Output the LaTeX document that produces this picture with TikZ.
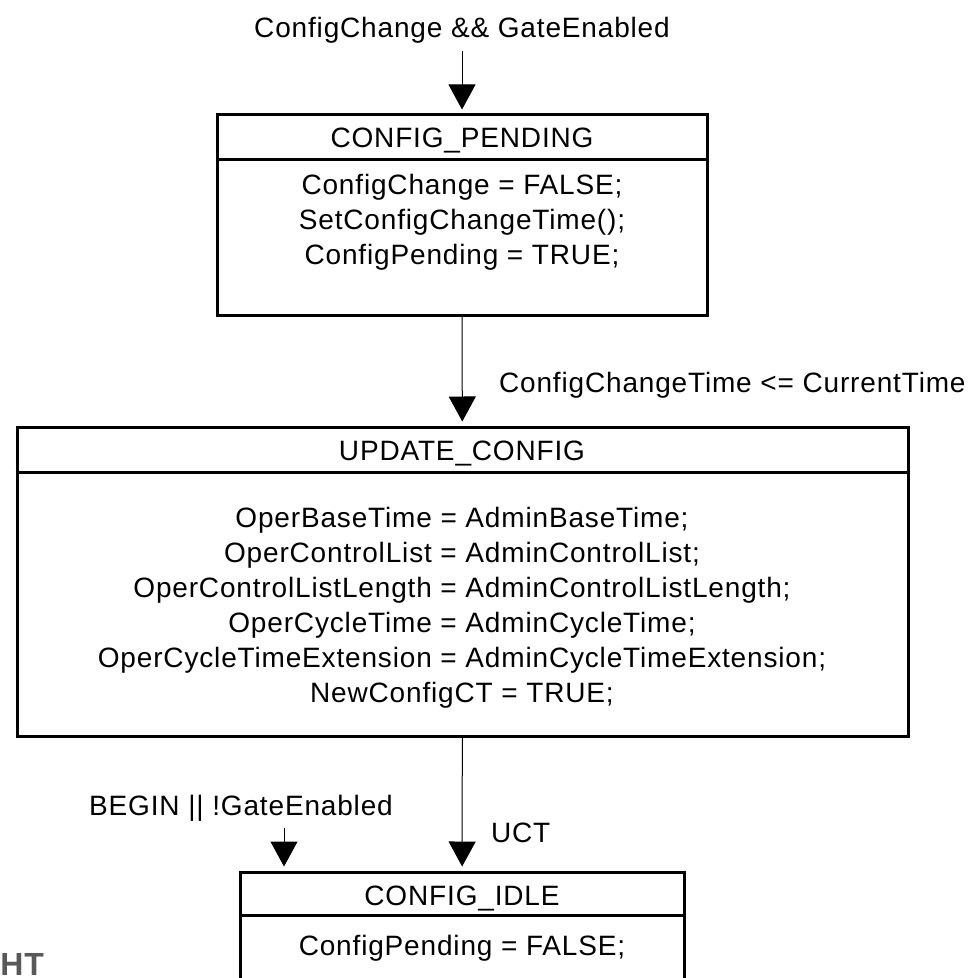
\documentclass[tikz,border=0pt]{standalone}
\usepackage{fontspec}
\setmainfont{Liberation Sans}[LetterSpace=3]
\usetikzlibrary{arrows.meta}

\tikzset{
  state/.style={draw, line width=1.5pt, inner sep=0pt},
  statename/.style={font=\fontsize{14}{17.5}\selectfont, anchor=base},
  stateaction/.style={font=\fontsize{14}{17.5}\selectfont, align=center},
  guard/.style={font=\fontsize{14}{17.5}\selectfont},
  trans/.style={line width=0.5pt, shorten >=2pt, -{Triangle[width=13.5pt,length=12.5pt]}},
}

\begin{document}
\begin{tikzpicture}[x=0.5pt, y=-0.5pt]
\clip (0,0) rectangle (973,978);

% state boxes
\node[state, minimum width=245pt, minimum height=100pt] (pending) at (462,215) {};
\node[state, minimum width=445.5pt, minimum height=154.5pt] (update) at (462.5,581.5) {};
\node[state, minimum width=222pt, minimum height=84pt] (idle) at (462,956) {};

\draw [line width=1.5pt] (pending.west |- 0,160) -- (pending.east |- 0,160);
\draw [line width=1.5pt] (update.west |- 0,472) -- (update.east |- 0,472);
\draw [line width=1.5pt] (idle.west |- 0,915) -- (idle.east |- 0,915);

\node[statename] (pendingname) at (462,148) {CONFIG\_PENDING};
\node[statename] (updatename) at (462,460) {UPDATE\_CONFIG};
\node[statename] (idlename) at (462,905) {CONFIG\_IDLE};

\node[stateaction] (pendingdo) at (462,222) {ConfigChange = FALSE;\\
  SetConfigChangeTime();\\
  ConfigPending = TRUE;};
\node[stateaction] (updatedo) at (462,608) {OperBaseTime = AdminBaseTime;\\
  OperControlList = AdminControlList;\\
  OperControlListLength = AdminControlListLength;\\
  OperCycleTime = AdminCycleTime;\\
  OperCycleTimeExtension = AdminCycleTimeExtension;\\
  NewConfigCT = TRUE;};
\node[stateaction, anchor=base] (idledo) at (462,955) {ConfigPending = FALSE;};

% transitions
\node[guard, anchor=base] (pendingif) at (462,38) {ConfigChange \&\& GateEnabled};
\node[guard, anchor=base west] (updateif) at (492,392) {ConfigChangeTime <= CurrentTime};
\node[guard, anchor=base west] (uct) at (484,842) {UCT};
\node[guard, anchor=base] (idleif) at (241,815) {BEGIN || !GateEnabled};

\draw [trans] (pendingif) -- (pending);
\draw [trans] (pending) -- (update);
\draw [trans] (update) -- (idle);
\draw [trans] (idleif.south -| 284,0) -- (idle.north -| 284,0);

\node[font=\fontsize{16}{16}\selectfont\bfseries, text=black!65, anchor=base west, inner sep=0pt] (mark) at (0,975) {HT};

\end{tikzpicture}
\end{document}
